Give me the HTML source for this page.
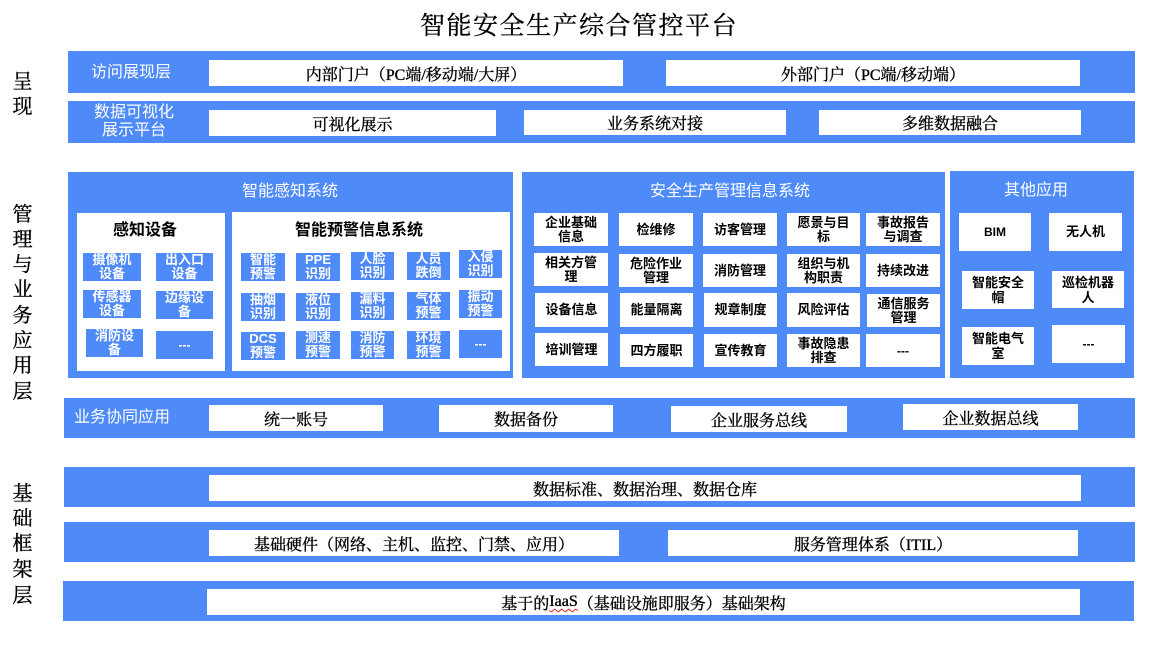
<!DOCTYPE html>
<html><head><meta charset="utf-8">
<style>
*{margin:0;padding:0;box-sizing:border-box}
body{width:1159px;height:658px;background:#fff;position:relative;overflow:hidden;font-family:"Liberation Sans","Noto Sans CJK SC",sans-serif}
.b{position:absolute;background:#4f8af9}
.w{position:absolute;background:#fff;display:flex;align-items:center;justify-content:center;text-align:center;color:#000}
.bar{font-family:"Liberation Serif","Noto Serif CJK SC",serif;font-size:16px;white-space:nowrap;-webkit-text-stroke:0.35px #000}
.t{position:absolute;text-align:center;white-space:nowrap}
.lab{position:absolute;left:12px;width:21px;text-align:center;font-family:"Liberation Serif","Noto Serif CJK SC",serif;font-size:20px;line-height:20px;color:#000;-webkit-text-stroke:0.35px #000}
.sb{position:absolute;background:#4f8af9;color:#fff;font-weight:bold;font-size:13px;line-height:14px;display:flex;align-items:center;justify-content:center;text-align:center;overflow:visible;white-space:nowrap}
.mb{position:absolute;background:#fff;color:#000;font-weight:bold;font-size:13px;line-height:14px;display:flex;align-items:center;justify-content:center;text-align:center;white-space:nowrap}
.wt{color:#fff;font-size:16px}
.bk{color:#000;font-size:16px;font-weight:bold}
.dd{font-size:12px;letter-spacing:0px;font-weight:bold}
</style></head><body>

<div class="t" style="left:379px;top:11px;width:400px;height:32px;line-height:32px;font-family:'Liberation Serif','Noto Serif CJK SC',serif;font-size:25px;letter-spacing:1.5px;color:#000;-webkit-text-stroke:0.3px #000">智能安全生产综合管控平台</div>

<!-- left labels -->
<div class="lab" style="top:72px">呈</div>
<div class="lab" style="top:97px">现</div>
<div class="lab" style="top:205px">管</div>
<div class="lab" style="top:230px">理</div>
<div class="lab" style="top:255px">与</div>
<div class="lab" style="top:280px">业</div>
<div class="lab" style="top:306px">务</div>
<div class="lab" style="top:331px">应</div>
<div class="lab" style="top:356px">用</div>
<div class="lab" style="top:382px">层</div>
<div class="lab" style="top:484px">基</div>
<div class="lab" style="top:509px">础</div>
<div class="lab" style="top:534px">框</div>
<div class="lab" style="top:560px">架</div>
<div class="lab" style="top:586px">层</div>

<!-- bar 1 -->
<div class="b" style="left:68px;top:51px;width:1067px;height:42px"></div>
<div class="t wt" style="left:70px;top:63px;width:122px;line-height:20px">访问展现层</div>
<div class="w bar" style="left:209px;top:60px;width:414px;height:26px">内部门户（PC端/移动端/大屏）</div>
<div class="w bar" style="left:666px;top:60px;width:414px;height:26px">外部门户（PC端/移动端）</div>

<!-- bar 2 -->
<div class="b" style="left:68px;top:101px;width:1067px;height:42px"></div>
<div class="t wt" style="left:73px;top:104px;width:122px;line-height:18px">数据可视化<br>展示平台</div>
<div class="w bar" style="left:209px;top:110px;width:287px;height:26px">可视化展示</div>
<div class="w bar" style="left:524px;top:110px;width:262px;height:25px">业务系统对接</div>
<div class="w bar" style="left:819px;top:110px;width:262px;height:25px">多维数据融合</div>

<!-- sensing system -->
<div class="b" style="left:68px;top:172px;width:445px;height:206px"></div>
<div class="t wt" style="left:190px;top:181px;width:200px;line-height:22px">智能感知系统</div>
<div class="w" style="left:77px;top:213px;width:148px;height:158px"></div>
<div class="w" style="left:232px;top:212px;width:278px;height:159px"></div>
<div class="t bk" style="left:85px;top:220px;width:120px;line-height:22px">感知设备</div>
<div class="t bk" style="left:259px;top:220px;width:200px;line-height:22px">智能预警信息系统</div>

<div class="sb" style="left:83px;top:253px;width:58px;height:28px">摄像机<br>设备</div>
<div class="sb" style="left:156px;top:253px;width:57px;height:28px">出入口<br>设备</div>
<div class="sb" style="left:83px;top:290px;width:58px;height:28px">传感器<br>设备</div>
<div class="sb" style="left:156px;top:291px;width:57px;height:28px">边缘设<br>备</div>
<div class="sb" style="left:86px;top:329px;width:57px;height:28px">消防设<br>备</div>
<div class="sb dd" style="left:156px;top:331px;width:57px;height:28px">---</div>

<div class="sb" style="left:241px;top:253px;width:44px;height:28px">智能<br>预警</div>
<div class="sb" style="left:296px;top:253px;width:44px;height:28px">PPE<br>识别</div>
<div class="sb" style="left:351px;top:252px;width:43px;height:28px">人脸<br>识别</div>
<div class="sb" style="left:407px;top:252px;width:43px;height:28px">人员<br>跌倒</div>
<div class="sb" style="left:459px;top:250px;width:43px;height:28px">入侵<br>识别</div>

<div class="sb" style="left:241px;top:293px;width:44px;height:28px">抽烟<br>识别</div>
<div class="sb" style="left:296px;top:293px;width:44px;height:28px">液位<br>识别</div>
<div class="sb" style="left:351px;top:292px;width:43px;height:28px">漏料<br>识别</div>
<div class="sb" style="left:407px;top:292px;width:43px;height:28px">气体<br>预警</div>
<div class="sb" style="left:459px;top:290px;width:43px;height:28px">振动<br>预警</div>

<div class="sb" style="left:241px;top:332px;width:44px;height:28px">DCS<br>预警</div>
<div class="sb" style="left:296px;top:331px;width:44px;height:28px">测速<br>预警</div>
<div class="sb" style="left:351px;top:331px;width:43px;height:28px">消防<br>预警</div>
<div class="sb" style="left:407px;top:331px;width:43px;height:28px">环境<br>预警</div>
<div class="sb dd" style="left:459px;top:330px;width:43px;height:28px">---</div>

<!-- safety management -->
<div class="b" style="left:522px;top:172px;width:423px;height:206px"></div>
<div class="t wt" style="left:630px;top:181px;width:200px;line-height:22px">安全生产管理信息系统</div>

<div class="mb" style="left:534px;top:213px;width:74px;height:33px">企业基础<br>信息</div>
<div class="mb" style="left:619px;top:213px;width:74px;height:33px">检维修</div>
<div class="mb" style="left:703px;top:213px;width:74px;height:33px">访客管理</div>
<div class="mb" style="left:787px;top:213px;width:73px;height:33px">愿景与目<br>标</div>
<div class="mb" style="left:866px;top:213px;width:74px;height:33px">事故报告<br>与调查</div>

<div class="mb" style="left:534px;top:253px;width:74px;height:33px">相关方管<br>理</div>
<div class="mb" style="left:619px;top:254px;width:74px;height:33px">危险作业<br>管理</div>
<div class="mb" style="left:703px;top:254px;width:74px;height:33px">消防管理</div>
<div class="mb" style="left:787px;top:254px;width:73px;height:33px">组织与机<br>构职责</div>
<div class="mb" style="left:866px;top:254px;width:74px;height:33px">持续改进</div>

<div class="mb" style="left:535px;top:293px;width:73px;height:34px">设备信息</div>
<div class="mb" style="left:620px;top:293px;width:73px;height:34px">能量隔离</div>
<div class="mb" style="left:704px;top:293px;width:73px;height:34px">规章制度</div>
<div class="mb" style="left:787px;top:293px;width:73px;height:34px">风险评估</div>
<div class="mb" style="left:867px;top:294px;width:73px;height:33px">通信服务<br>管理</div>

<div class="mb" style="left:535px;top:333px;width:73px;height:33px">培训管理</div>
<div class="mb" style="left:620px;top:334px;width:73px;height:33px">四方履职</div>
<div class="mb" style="left:704px;top:334px;width:73px;height:33px">宣传教育</div>
<div class="mb" style="left:787px;top:334px;width:73px;height:33px">事故隐患<br>排查</div>
<div class="mb dd" style="left:866px;top:334px;width:74px;height:33px">---</div>

<!-- other apps -->
<div class="b" style="left:950px;top:171px;width:184px;height:207px"></div>
<div class="t wt" style="left:986px;top:180px;width:100px;line-height:22px">其他应用</div>
<div class="mb" style="left:959px;top:213px;width:72px;height:38px;font-size:12px">BIM</div>
<div class="mb" style="left:1049px;top:213px;width:73px;height:38px">无人机</div>
<div class="mb" style="left:962px;top:271px;width:72px;height:38px;line-height:15px">智能安全<br>帽</div>
<div class="mb" style="left:1052px;top:271px;width:72px;height:37px;line-height:15px">巡检机器<br>人</div>
<div class="mb" style="left:962px;top:327px;width:72px;height:38px;line-height:15px">智能电气<br>室</div>
<div class="mb dd" style="left:1052px;top:325px;width:73px;height:38px">---</div>

<!-- bar 3 -->
<div class="b" style="left:64px;top:398px;width:1071px;height:40px"></div>
<div class="t wt" style="left:74px;top:408px;line-height:20px;text-align:left">业务协同应用</div>
<div class="w bar" style="left:209px;top:405px;width:174px;height:26px">统一账号</div>
<div class="w bar" style="left:439px;top:405px;width:174px;height:27px">数据备份</div>
<div class="w bar" style="left:671px;top:406px;width:176px;height:26px">企业服务总线</div>
<div class="w bar" style="left:903px;top:404px;width:175px;height:26px">企业数据总线</div>

<!-- bar 4 -->
<div class="b" style="left:64px;top:467px;width:1071px;height:40px"></div>
<div class="w bar" style="left:209px;top:475px;width:872px;height:26px">数据标准、数据治理、数据仓库</div>

<!-- bar 5 -->
<div class="b" style="left:64px;top:522px;width:1071px;height:40px"></div>
<div class="w bar" style="left:209px;top:530px;width:410px;height:26px">基础硬件（网络、主机、监控、门禁、应用）</div>
<div class="w bar" style="left:668px;top:530px;width:410px;height:26px">服务管理体系（ITIL）</div>

<!-- bar 6 -->
<div class="b" style="left:63px;top:581px;width:1071px;height:40px"></div>
<div class="w bar" style="left:207px;top:589px;width:873px;height:26px">基于的<span style="text-decoration:underline wavy #e02020;text-decoration-thickness:1px;text-underline-offset:2px">IaaS</span>（基础设施即服务）基础架构</div>

</body></html>
